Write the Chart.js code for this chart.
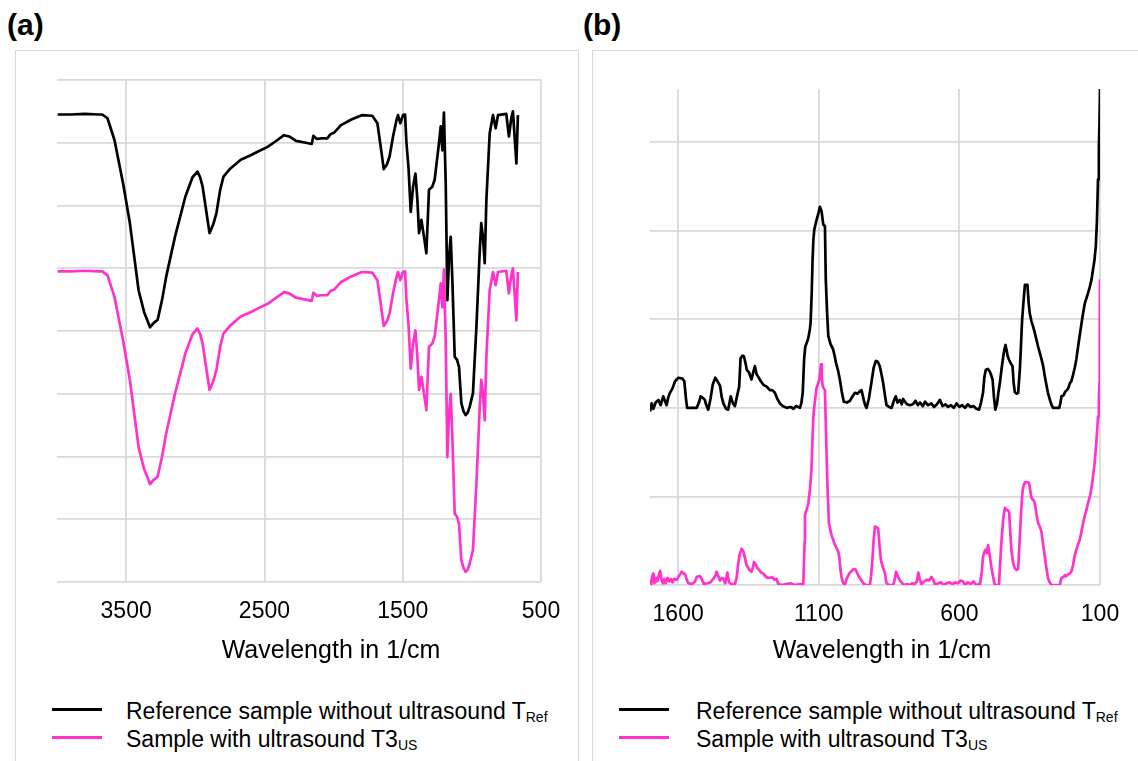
<!DOCTYPE html>
<html><head><meta charset="utf-8">
<script src="https://cdn.jsdelivr.net/npm/chart.js@4.4.1/dist/chart.umd.min.js"></script>
<style>
body{margin:0;background:#fff;width:1138px;height:761px;overflow:hidden;position:relative;font-family:"Liberation Sans",Arial,sans-serif;}
.frame{position:absolute;border:1.5px solid #d9d9d9;box-sizing:border-box;}
.plabel{position:absolute;font-weight:bold;font-size:30px;line-height:30px;color:#000;}
.leg{position:absolute;font-size:23px;line-height:28px;color:#000;white-space:nowrap;}
.leg .sub{font-size:14px;position:relative;top:3px;}
.xt{position:absolute;width:400px;text-align:center;font-size:25px;line-height:30px;color:#000;white-space:nowrap;}
.sw{position:absolute;height:3px;width:50px;}
canvas{position:absolute;top:0;}
</style>
</head><body>
<div class="frame" style="left:15px;top:50px;width:564px;height:760px;"></div>
<div class="frame" style="left:592px;top:50px;width:600px;height:760px;"></div>
<div class="plabel" style="left:7px;top:10px;">(a)</div>
<div class="plabel" style="left:583px;top:10px;">(b)</div>
<canvas id="ca" width="580" height="664" style="left:0;"></canvas>
<canvas id="cb" width="546" height="664" style="left:592px;"></canvas>
<div id="titA" class="xt" style="left:131px;top:634px;"></div>
<div id="titB" class="xt" style="left:682px;top:634px;"></div>
<div id="legA"></div>
<div id="legB"></div>
<script>
// ---------- shared text ----------
const xTitle = "Wavelength in 1/cm";
const seriesNames = ["Reference sample without ultrasound T", "Sample with ultrasound T3"];
const seriesSubs = ["Ref", "US"];
const seriesColors = ["#000000", "#ff33cc"];

// ---------- panel (a): FTIR ----------
const aTicks = [3500, 2500, 1500, 500];
const aGrid = [0, 1, 2, 3, 4, 5, 6, 7, 8];
const aWn = [3995,3900,3800,3700,3673,3635,3584,3522,3473,3410,3370,3327,3300,3272,3240,3210,3147,3072,3020,2984,2965,2947,2920,2897,2870,2847,2820,2796,2746,2671,2600,2546,2480,2421,2358,2321,2271,2200,2158,2146,2121,2090,2046,2020,1996,1946,1871,1796,1720,1683,1660,1637,1615,1595,1570,1545,1534,1517,1498,1483,1473,1458,1442,1425,1408,1394,1382,1365,1346,1329,1310,1286,1269,1238,1225,1213,1202,1189,1177,1165,1153,1141,1124,1107,1093,1076,1060,1045,1030,1016,992,967,951,944,932,920,907,895,871,847,828,811,751,732,715,703,678,667];
const aRef = [7.45,7.45,7.46,7.45,7.45,7.39,7.04,6.35,5.72,4.65,4.30,4.06,4.13,4.18,4.50,4.87,5.50,6.14,6.45,6.54,6.45,6.30,5.90,5.56,5.70,5.88,6.25,6.46,6.59,6.73,6.80,6.86,6.93,7.02,7.12,7.10,7.03,7.00,6.98,7.11,7.06,7.07,7.07,7.14,7.16,7.28,7.37,7.44,7.43,7.31,6.95,6.58,6.65,6.78,7.10,7.36,7.44,7.31,7.44,7.45,7.00,6.60,5.90,6.30,6.51,6.09,5.56,5.77,5.50,5.24,6.25,6.30,6.41,6.99,7.26,6.88,7.48,6.35,4.49,5.18,5.50,4.81,3.59,3.54,3.43,2.85,2.72,2.66,2.70,2.79,3.01,4.07,4.87,5.24,5.72,5.50,5.08,6.09,7.15,7.44,7.23,7.44,7.46,7.10,7.39,7.50,6.67,7.44];
const aUS = [4.95,4.95,4.96,4.95,4.95,4.89,4.54,3.85,3.22,2.15,1.80,1.56,1.63,1.68,2.00,2.37,3.00,3.64,3.95,4.04,3.95,3.80,3.40,3.06,3.20,3.38,3.75,3.96,4.09,4.23,4.30,4.36,4.43,4.52,4.62,4.60,4.53,4.50,4.48,4.61,4.56,4.57,4.57,4.64,4.66,4.78,4.87,4.94,4.93,4.81,4.45,4.08,4.15,4.28,4.60,4.86,4.94,4.81,4.94,4.95,4.50,4.10,3.40,3.80,4.01,3.59,3.06,3.27,3.00,2.74,3.75,3.80,3.91,4.49,4.76,4.38,4.98,3.85,1.99,2.68,3.00,2.31,1.09,1.04,0.93,0.35,0.22,0.16,0.20,0.29,0.51,1.57,2.37,2.74,3.22,3.00,2.58,3.59,4.65,4.94,4.73,4.94,4.96,4.60,4.89,5.00,4.17,4.94];

// ---------- panel (b): Raman ----------
const bTicks = [1600, 1100, 600, 100];
const bGrid = [0, 1, 2, 3, 4, 5];
const bWnRef = [1700,1694,1688,1680,1670,1662,1653,1647,1641,1635,1629,1620,1611,1599,1585,1578,1572,1568,1534,1526,1520,1511,1505,1501,1493,1485,1477,1468,1460,1451,1445,1439,1430,1422,1416,1413,1405,1398,1390,1383,1378,1371,1366,1360,1356,1348,1339,1333,1327,1321,1315,1306,1297,1285,1274,1265,1256,1247,1238,1228,1214,1200,1190,1180,1167,1162,1157,1152,1148,1142,1137,1132,1129,1125,1122,1119,1116,1108,1101,1096,1090,1084,1078,1075,1070,1066,1058,1049,1043,1039,1032,1025,1018,1011,1000,989,980,971,963,956,948,940,935,930,922,917,912,905,897,890,883,877,871,865,859,850,841,833,826,820,812,805,800,794,786,776,765,756,748,740,730,722,712,700,690,680,669,660,650,640,630,620,610,600,590,580,570,560,550,540,530,523,516,511,506,499,492,487,482,477,472,466,461,456,450,444,440,436,432,428,423,417,411,407,403,396,391,385,381,377,372,367,358,354,350,344,338,332,326,320,314,308,302,296,290,285,279,273,267,255,245,241,237,230,224,218,213,207,202,196,190,184,178,172,166,160,154,148,142,136,130,125,120,115,111,107,104,102,100];
const bRef = [1.96,2.05,1.99,2.06,2.09,2.03,2.13,2.08,2.03,2.12,2.17,2.22,2.30,2.34,2.33,2.30,2.10,2.00,2.00,2.06,2.13,2.11,2.09,2.04,1.98,2.10,2.26,2.34,2.30,2.25,2.12,2.05,1.99,1.98,2.08,2.13,2.05,2.02,2.14,2.24,2.56,2.59,2.58,2.50,2.43,2.40,2.32,2.40,2.47,2.38,2.35,2.30,2.26,2.24,2.20,2.20,2.17,2.10,2.05,2.02,2.00,2.01,1.99,2.02,2.00,2.05,2.17,2.55,2.69,2.74,2.79,2.88,2.96,3.30,3.67,3.90,4.01,4.12,4.20,4.27,4.22,4.07,4.05,3.45,3.05,2.81,2.72,2.66,2.58,2.51,2.43,2.32,2.18,2.07,2.06,2.08,2.13,2.17,2.16,2.18,2.20,2.09,2.03,2.00,2.10,2.20,2.30,2.45,2.53,2.52,2.47,2.38,2.28,2.15,2.03,2.01,2.00,2.08,2.13,2.06,2.09,2.04,2.10,2.07,2.04,2.03,2.04,2.08,2.03,2.06,2.02,2.07,2.03,2.05,2.01,2.04,2.09,2.02,2.04,2.01,2.03,2.00,2.05,2.01,2.03,2.00,2.04,2.01,2.02,1.99,1.98,2.06,2.17,2.35,2.43,2.44,2.41,2.37,2.32,2.12,1.98,2.05,2.18,2.28,2.44,2.58,2.66,2.71,2.65,2.58,2.54,2.50,2.47,2.28,2.18,2.16,2.17,2.43,2.70,2.99,3.20,3.39,3.39,3.20,3.07,2.98,2.92,2.85,2.77,2.69,2.62,2.55,2.47,2.35,2.25,2.17,2.10,2.04,2.00,2.00,2.00,2.05,2.13,2.14,2.18,2.20,2.22,2.28,2.30,2.37,2.45,2.55,2.69,2.82,2.95,3.07,3.18,3.24,3.30,3.37,3.45,3.56,3.66,3.82,4.10,4.58,4.95,5.20,5.60];
const bWnUS = [1700,1696,1692,1688,1684,1679,1674,1668,1664,1659,1654,1649,1644,1638,1632,1626,1620,1614,1605,1597,1587,1580,1575,1568,1564,1550,1540,1534,1526,1522,1515,1508,1495,1485,1475,1468,1463,1457,1451,1445,1439,1433,1428,1425,1419,1410,1398,1392,1386,1380,1374,1368,1362,1358,1354,1346,1339,1334,1330,1324,1318,1312,1305,1297,1290,1282,1274,1266,1258,1250,1244,1230,1215,1200,1185,1170,1155,1150,1149,1143,1137,1131,1126,1122,1119,1116,1108,1102,1098,1095,1092,1089,1086,1078,1074,1070,1064,1056,1049,1043,1037,1031,1027,1023,1019,1013,1007,1001,995,989,983,977,971,965,960,954,948,942,932,918,914,910,905,900,894,889,884,879,872,865,859,850,835,830,825,819,813,806,797,786,776,768,760,751,746,741,735,725,715,708,699,693,686,675,665,656,645,635,625,615,605,595,587,580,570,560,550,540,530,527,520,516,510,506,502,498,493,486,480,474,465,459,455,450,444,438,432,426,423,419,415,409,403,396,391,385,380,375,370,367,358,352,347,343,337,332,326,320,314,308,302,296,290,285,279,273,255,243,237,230,224,220,213,207,202,196,190,184,178,172,166,160,155,148,142,136,130,125,120,115,111,107,104,102,101,100];
const bUS = [0.06,0.00,0.10,0.13,0.02,0.08,0.04,0.12,0.16,0.06,0.02,0.07,0.02,0.08,0.04,0.07,0.03,0.07,0.06,0.10,0.15,0.13,0.12,0.05,0.02,0.01,0.04,0.09,0.10,0.10,0.06,0.01,0.02,0.03,0.07,0.10,0.15,0.10,0.05,0.08,0.07,0.02,0.09,0.14,0.03,0.01,0.01,0.08,0.25,0.36,0.41,0.38,0.30,0.24,0.21,0.17,0.15,0.20,0.26,0.23,0.19,0.17,0.14,0.13,0.10,0.08,0.08,0.09,0.06,0.07,0.01,0.00,0.01,0.02,0.00,0.01,0.01,0.50,0.79,0.85,0.92,1.09,1.30,1.68,1.90,2.01,2.22,2.28,2.32,2.40,2.49,2.35,2.24,2.20,1.70,1.22,0.70,0.58,0.51,0.46,0.42,0.38,0.32,0.18,0.09,0.02,0.00,0.07,0.11,0.14,0.16,0.18,0.18,0.15,0.11,0.08,0.05,0.02,0.00,0.00,0.10,0.25,0.50,0.66,0.65,0.64,0.45,0.28,0.20,0.14,0.02,0.00,0.00,0.06,0.15,0.10,0.06,0.03,0.00,0.01,0.00,0.02,0.01,0.04,0.14,0.07,0.01,0.04,0.06,0.05,0.09,0.06,0.00,0.02,0.03,0.00,0.02,0.03,0.01,0.03,0.02,0.05,0.04,0.00,0.03,0.01,0.04,0.00,0.01,0.00,0.15,0.32,0.38,0.40,0.36,0.45,0.35,0.20,0.09,0.00,0.00,0.01,0.25,0.51,0.75,0.87,0.85,0.84,0.82,0.60,0.40,0.25,0.19,0.17,0.18,0.55,0.85,1.07,1.14,1.16,1.16,1.15,1.05,0.98,0.96,0.93,0.80,0.70,0.66,0.60,0.45,0.32,0.18,0.08,0.03,0.00,0.00,0.00,0.08,0.09,0.11,0.10,0.12,0.13,0.15,0.22,0.33,0.40,0.46,0.51,0.60,0.70,0.77,0.85,0.93,1.00,1.10,1.22,1.35,1.53,1.70,1.90,2.10,2.28,2.80,3.45];

// ---------- build ----------
const FONT = "'Liberation Sans', Arial, sans-serif";
function pts(xs, ys) { return xs.map((x, i) => ({ x: x, y: ys[i] })); }
function ds(i, xs, ys) {
  return { label: seriesNames[i] + seriesSubs[i], data: pts(xs, ys), borderColor: seriesColors[i],
           borderWidth: 2.7, pointRadius: 0, tension: 0, fill: false, borderJoinStyle: 'round' };
}
function makeChart(id, sets, xr, ticks, yr, grid, pad, axisH) {
  return new Chart(document.getElementById(id), {
    type: 'line',
    data: { datasets: sets },
    options: {
      responsive: false, animation: false, events: [],
      layout: { padding: pad },
      plugins: { legend: { display: false }, tooltip: { enabled: false } },
      scales: {
        x: {
          type: 'linear', reverse: true, min: xr[0], max: xr[1],
          afterBuildTicks: s => { s.ticks = ticks.map(v => ({ value: v })); },
          afterFit: s => { s.height = axisH; },
          ticks: { padding: 16, autoSkip: false, maxRotation: 0, color: '#000',
                   font: { family: FONT, size: 23 }, callback: v => String(v) },
          grid: { color: '#d9d9d9', lineWidth: 1.8, drawTicks: false },
          border: { display: false },
          title: { display: false, text: xTitle }
        },
        y: {
          min: yr[0], max: yr[1],
          afterBuildTicks: s => { s.ticks = grid.map(v => ({ value: v })); },
          ticks: { display: false },
          grid: { color: '#d9d9d9', lineWidth: 1.8, drawTicks: false },
          border: { display: false }
        }
      }
    }
  });
}
makeChart('ca', [ds(0, aWn, aRef), ds(1, aWn, aUS)], [500, 4000], aTicks, [0, 8], aGrid,
          { left: 57, right: 39, top: 80, bottom: 0 }, 82);
makeChart('cb', [ds(0, bWnRef, bRef), ds(1, bWnUS, bUS)], [100, 1700], bTicks, [0, 5.6], bGrid,
          { left: 58, right: 38, top: 89, bottom: 0 }, 79);

// axis titles as HTML text
document.getElementById('titA').textContent = xTitle;
document.getElementById('titB').textContent = xTitle;

// ---------- HTML legends (with subscripts) ----------
function legend(host, lineX, textX) {
  const el = document.getElementById(host);
  seriesNames.forEach((n, i) => {
    const sw = document.createElement('div');
    sw.className = 'sw';
    sw.style.left = lineX + 'px';
    sw.style.top = (709 + i * 28 - 1.5) + 'px';
    sw.style.background = seriesColors[i];
    el.appendChild(sw);
    const t = document.createElement('div');
    t.className = 'leg';
    t.style.left = textX + 'px';
    t.style.top = (697 + i * 28) + 'px';
    t.appendChild(document.createTextNode(n));
    const s = document.createElement('span');
    s.className = 'sub';
    s.textContent = seriesSubs[i];
    t.appendChild(s);
    el.appendChild(t);
  });
}
legend('legA', 52, 126);
legend('legB', 619, 696);
</script>
</body></html>
